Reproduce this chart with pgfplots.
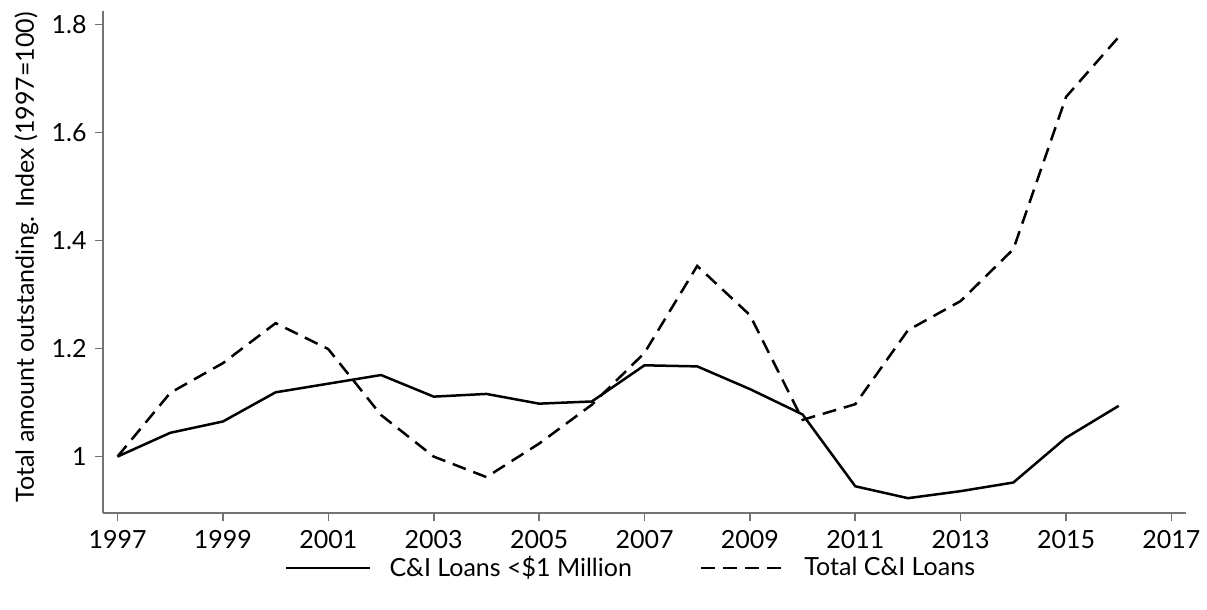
\documentclass[border=0pt]{standalone}
\usepackage{fontspec}
\setmainfont{Lato}
\usepackage{pgfplots}
\pgfplotsset{compat=1.18}

\begin{document}
\fontsize{12.5pt}{15pt}\selectfont
\begin{tikzpicture}
\useasboundingbox (-51.65pt,-48.35pt) rectangle (551.85pt,256.65pt);
\begin{axis}[
  scale only axis,
  width=541.2pt, height=251.15pt,
  xmin=1996.73, xmax=2017.27,
  ymin=0.895, ymax=1.825,
  axis lines*=left,
  axis line style={black!55, line width=0.8pt},
  tick pos=left,
  tick align=outside,
  major tick length=4pt,
  every tick/.style={black!55, line width=0.8pt},
  xtick={1997,1999,...,2017},
  ytick={1,1.2,1.4,1.6,1.8},
  /pgf/number format/assume math mode=true,
  /pgf/number format/.cd, 1000 sep={}, /pgfplots/.cd,
  ticklabel style={font=\fontsize{12.5pt}{15pt}\selectfont},
  ylabel={Total amount outstanding. Index (1997=100)},
  ylabel style={at={(axis description cs:-0.071,0.51)}, anchor=center, font=\fontsize{12.5pt}{15pt}\selectfont},
  legend columns=2,
  legend style={
    at={(axis description cs:0.4885,-0.109)}, anchor=center,
    draw=none, fill=none,
    font=\fontsize{12.5pt}{15pt}\selectfont,
    /tikz/every even column/.append style={column sep=32pt},
  },
  legend image code/.code={%
    \draw[#1, line width=1.25pt] (0pt,0pt) -- (42pt,0pt);
    \path (49pt,0pt);},
]
% Loans under $1 million, indexed to 1997
\addplot[black, line width=1.25pt] coordinates {
  (1997,1.000) (1998,1.044) (1999,1.065) (2000,1.119) (2001,1.135)
  (2002,1.151) (2003,1.111) (2004,1.116) (2005,1.098) (2006,1.102)
  (2007,1.169) (2008,1.167) (2009,1.125) (2010,1.078) (2011,0.945)
  (2012,0.923) (2013,0.936) (2014,0.952) (2015,1.035) (2016,1.094)
};
\addlegendentry{C\&I Loans <\$1 Million}
% All commercial and industrial loans, indexed to 1997
\addplot[black, line width=1.25pt, dash pattern=on 7pt off 4pt] coordinates {
  (1997,1.000) (1998,1.118) (1999,1.173) (2000,1.247) (2001,1.199)
  (2002,1.077) (2003,1.000) (2004,0.962) (2005,1.024) (2006,1.096)
  (2007,1.192) (2008,1.353) (2009,1.262) (2010,1.068) (2011,1.097)
  (2012,1.234) (2013,1.288) (2014,1.384) (2015,1.666) (2016,1.777)
};
\addlegendentry{Total C\&I Loans}
\end{axis}
\end{tikzpicture}
\end{document}
